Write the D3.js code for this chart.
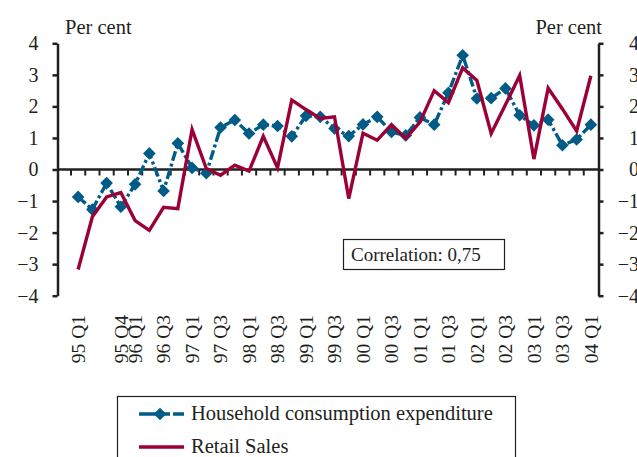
<!DOCTYPE html>
<html>
<head>
<meta charset="utf-8">
<script src="https://cdn.jsdelivr.net/npm/d3@7/dist/d3.min.js"></script>
<style>
  html, body { margin: 0; padding: 0; background: #fff; }
  svg { display: block; }
  text { font-family: "Liberation Serif", "Times New Roman", serif; fill: #231f20; }
</style>
</head>
<body>
<svg id="chart" width="637" height="457"></svg>
<script>
// Quarterly categories, 1995 Q1 – 2004 Q1
const quarters = [
  "95 Q1","95 Q2","95 Q3","95 Q4","96 Q1","96 Q2","96 Q3","96 Q4",
  "97 Q1","97 Q2","97 Q3","97 Q4","98 Q1","98 Q2","98 Q3","98 Q4",
  "99 Q1","99 Q2","99 Q3","99 Q4","00 Q1","00 Q2","00 Q3","00 Q4",
  "01 Q1","01 Q2","01 Q3","01 Q4","02 Q1","02 Q2","02 Q3","02 Q4",
  "03 Q1","03 Q2","03 Q3","03 Q4","04 Q1"
];

// Annual growth, per cent
const household = [
  -0.87, -1.27, -0.43, -1.18, -0.47, 0.51, -0.68, 0.83,
  0.05, -0.12, 1.33, 1.57, 1.14, 1.42, 1.38, 1.05,
  1.70, 1.67, 1.30, 1.06, 1.43, 1.67, 1.19, 1.08,
  1.65, 1.42, 2.43, 3.62, 2.25, 2.26, 2.57, 1.72,
  1.40, 1.58, 0.77, 0.95, 1.42
];
const retail = [
  -3.17, -1.50, -0.87, -0.73, -1.62, -1.93, -1.20, -1.24,
  1.27, 0.03, -0.18, 0.14, -0.05, 1.05, 0.05, 2.20,
  1.90, 1.62, 1.67, -0.92, 1.15, 0.93, 1.42, 0.98,
  1.50, 2.50, 2.12, 3.22, 2.82, 1.14, 2.05, 2.98,
  0.33, 2.58, 1.92, 1.22, 2.97
];

const xTickLabels = [
  "95 Q1","95 Q4","96 Q1","96 Q3","97 Q1","97 Q3","98 Q1","98 Q3","99 Q1",
  "99 Q3","00 Q1","00 Q3","01 Q1","01 Q3","02 Q1","02 Q3","03 Q1","03 Q3","04 Q1"
];
const yTicks = [-4, -3, -2, -1, 0, 1, 2, 3, 4];
const seriesNames = ["Household consumption expenditure", "Retail Sales"];
const correlationText = "Correlation: 0,75";
const unitLabel = "Per cent";

const BLUE = "#005b87";
const RED = "#9b0036";
const INK = "#231f20";
const SERIF = '"Liberation Serif", "Times New Roman", serif';

const svg = d3.select("#chart");
svg.append("rect").attr("width", 637).attr("height", 457).attr("fill", "#fff");

const plotLeft = 57.5, plotRight = 598.5, plotTop = 43.3, plotBottom = 295.7;

const x = d3.scaleBand().domain(quarters).range([71, 598]);
const bw = x.bandwidth();
const cx = q => x(q) + bw / 2;
const y = d3.scaleLinear().domain([-4, 4]).range([plotBottom, plotTop]);

// Left value axis
const axL = svg.append("g").attr("transform", `translate(${plotLeft},0)`)
  .call(d3.axisLeft(y).tickValues(yTicks).tickSize(5).tickSizeOuter(0).tickPadding(14).tickFormat(d3.format("d")));
axL.select(".domain").attr("stroke", INK).attr("stroke-width", 2.5);
axL.selectAll(".tick line").attr("stroke", INK).attr("stroke-width", 2.5);
axL.selectAll(".tick text").attr("font-size", 20).attr("fill", INK).style("font-family", SERIF);

// Right value axis (labels right-aligned at the page edge)
const axR = svg.append("g").attr("transform", `translate(${plotRight},0)`)
  .call(d3.axisRight(y).tickValues(yTicks).tickSize(5).tickSizeOuter(0).tickFormat(d3.format("d")));
axR.select(".domain").attr("stroke", INK).attr("stroke-width", 2.5);
axR.selectAll(".tick line").attr("stroke", INK).attr("stroke-width", 2.5);
axR.selectAll(".tick text").attr("font-size", 20).attr("fill", INK)
  .attr("text-anchor", "end").attr("x", 639 - plotRight).style("font-family", SERIF);

// Zero line with quarter ticks
const y0 = y(0);
svg.append("line").attr("x1", plotLeft).attr("x2", plotRight).attr("y1", y0).attr("y2", y0)
  .attr("stroke", INK).attr("stroke-width", 2.5);
svg.append("g").selectAll("line").data(quarters).join("line")
  .attr("x1", d => x(d)).attr("x2", d => x(d))
  .attr("y1", y0).attr("y2", y0 + 6)
  .attr("stroke", INK).attr("stroke-width", 2);

// Category labels, rotated
svg.append("g").selectAll("text").data(xTickLabels).join("text")
  .attr("transform", d => `translate(${cx(d)},315) rotate(-90)`)
  .attr("text-anchor", "end").attr("dy", "0.35em")
  .attr("font-size", 19.5).text(d => d);

// Unit labels
svg.append("text").attr("x", 65).attr("y", 34).attr("font-size", 20.5).text(unitLabel);
svg.append("text").attr("x", 602).attr("y", 34).attr("font-size", 20.5)
  .attr("text-anchor", "end").text(unitLabel);

// Correlation box
svg.append("rect").attr("x", 343.5).attr("y", 239.5).attr("width", 161).attr("height", 30)
  .attr("fill", "#fff").attr("stroke", INK).attr("stroke-width", 1.2);
svg.append("text").attr("x", 351).attr("y", 261).attr("font-size", 19).text(correlationText);

// Series
const line = d3.line().x((d, i) => cx(quarters[i])).y(d => y(d));
const dash = "10,3,3,3";
const diamond = d3.symbol().type(d3.symbolSquare).size(80);

svg.append("path").datum(household).attr("d", line)
  .attr("fill", "none").attr("stroke", BLUE).attr("stroke-width", 3.4)
  .attr("stroke-dasharray", dash);
svg.append("g").selectAll("path").data(household).join("path")
  .attr("d", diamond)
  .attr("transform", (d, i) => `translate(${cx(quarters[i])},${y(d)}) rotate(45)`)
  .attr("fill", BLUE);

svg.append("path").datum(retail).attr("d", line)
  .attr("fill", "none").attr("stroke", RED).attr("stroke-width", 3.4)
  .attr("stroke-linejoin", "miter");

// Legend
const lg = svg.append("g");
lg.append("rect").attr("x", 117.5).attr("y", 396.5).attr("width", 398).attr("height", 80)
  .attr("fill", "#fff").attr("stroke", INK).attr("stroke-width", 1.2);
lg.append("line").attr("x1", 139).attr("x2", 184).attr("y1", 414).attr("y2", 414)
  .attr("stroke", BLUE).attr("stroke-width", 3.4).attr("stroke-dasharray", "31,3,12");
lg.append("path").attr("d", diamond).attr("transform", "translate(160,414) rotate(45)").attr("fill", BLUE);
lg.append("text").attr("x", 191).attr("y", 420).attr("font-size", 20.5).text(seriesNames[0]);
lg.append("line").attr("x1", 139).attr("x2", 184).attr("y1", 447).attr("y2", 447)
  .attr("stroke", RED).attr("stroke-width", 3.4);
lg.append("text").attr("x", 191).attr("y", 453).attr("font-size", 20.5).text(seriesNames[1]);
</script>
</body>
</html>
